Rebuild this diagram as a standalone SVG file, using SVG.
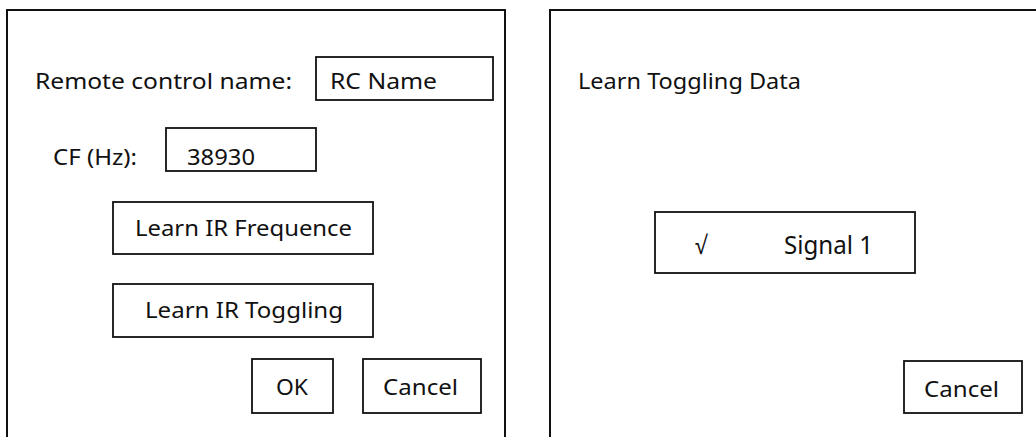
<svg xmlns="http://www.w3.org/2000/svg" width="1036" height="437" viewBox="0 0 1036 437">
  <style>
    .frame { fill: none; stroke: #111; stroke-width: 2; }
    .box { fill: #fff; stroke: #111; stroke-width: 1.8; }
    .lbl { font-family: "Noto Sans", "Open Sans", "Liberation Sans", sans-serif; font-size: 22.5px; fill: #111; }
    .big { font-size: 25px; }
  </style>

  <!-- Dialog 1: remote control setup -->
  <g id="dialog-setup">
    <path class="frame" d="M7,437 V10 H505 V437"/>
    <text class="lbl" x="35" y="89" textLength="257" lengthAdjust="spacingAndGlyphs">Remote control name:</text>
  </g>
  <g id="field-rc-name">
    <rect class="box" x="316" y="57" width="177" height="43"/>
    <text class="lbl" x="330" y="89" textLength="107" lengthAdjust="spacingAndGlyphs">RC Name</text>
  </g>
  <g id="label-cf">
    <text class="lbl" x="53" y="165" textLength="84" lengthAdjust="spacingAndGlyphs">CF (Hz):</text>
  </g>
  <g id="field-cf">
    <rect class="box" x="166" y="128" width="150" height="43"/>
    <text class="lbl" x="187" y="165" textLength="68" lengthAdjust="spacingAndGlyphs">38930</text>
  </g>
  <g id="btn-learn-freq">
    <rect class="box" x="113" y="202" width="260" height="52"/>
    <text class="lbl" x="135" y="236" textLength="217" lengthAdjust="spacingAndGlyphs">Learn IR Frequence</text>
  </g>
  <g id="btn-learn-toggle">
    <rect class="box" x="113" y="284" width="260" height="53"/>
    <text class="lbl" x="145" y="318" textLength="198" lengthAdjust="spacingAndGlyphs">Learn IR Toggling</text>
  </g>
  <g id="btn-ok">
    <rect class="box" x="252" y="359" width="81" height="54"/>
    <text class="lbl" x="276" y="395" textLength="32" lengthAdjust="spacingAndGlyphs">OK</text>
  </g>
  <g id="btn-cancel-1">
    <rect class="box" x="363" y="359" width="118" height="54"/>
    <text class="lbl" x="383" y="395" textLength="75" lengthAdjust="spacingAndGlyphs">Cancel</text>
  </g>

  <!-- Dialog 2: toggling data capture -->
  <g id="dialog-toggle">
    <path class="frame" d="M550,437 V10 H1036"/>
    <text class="lbl" x="578" y="89" textLength="223" lengthAdjust="spacingAndGlyphs">Learn Toggling Data</text>
  </g>
  <g id="item-signal-1">
    <rect class="box" x="655" y="212" width="260" height="61"/>
    <text class="lbl big" x="695" y="254" textLength="12" lengthAdjust="spacingAndGlyphs">√</text>
    <text class="lbl big" x="784" y="254" textLength="89" lengthAdjust="spacingAndGlyphs">Signal 1</text>
  </g>
  <g id="btn-cancel-2">
    <rect class="box" x="904" y="361" width="118" height="52"/>
    <text class="lbl" x="924" y="397" textLength="75" lengthAdjust="spacingAndGlyphs">Cancel</text>
  </g>
</svg>
